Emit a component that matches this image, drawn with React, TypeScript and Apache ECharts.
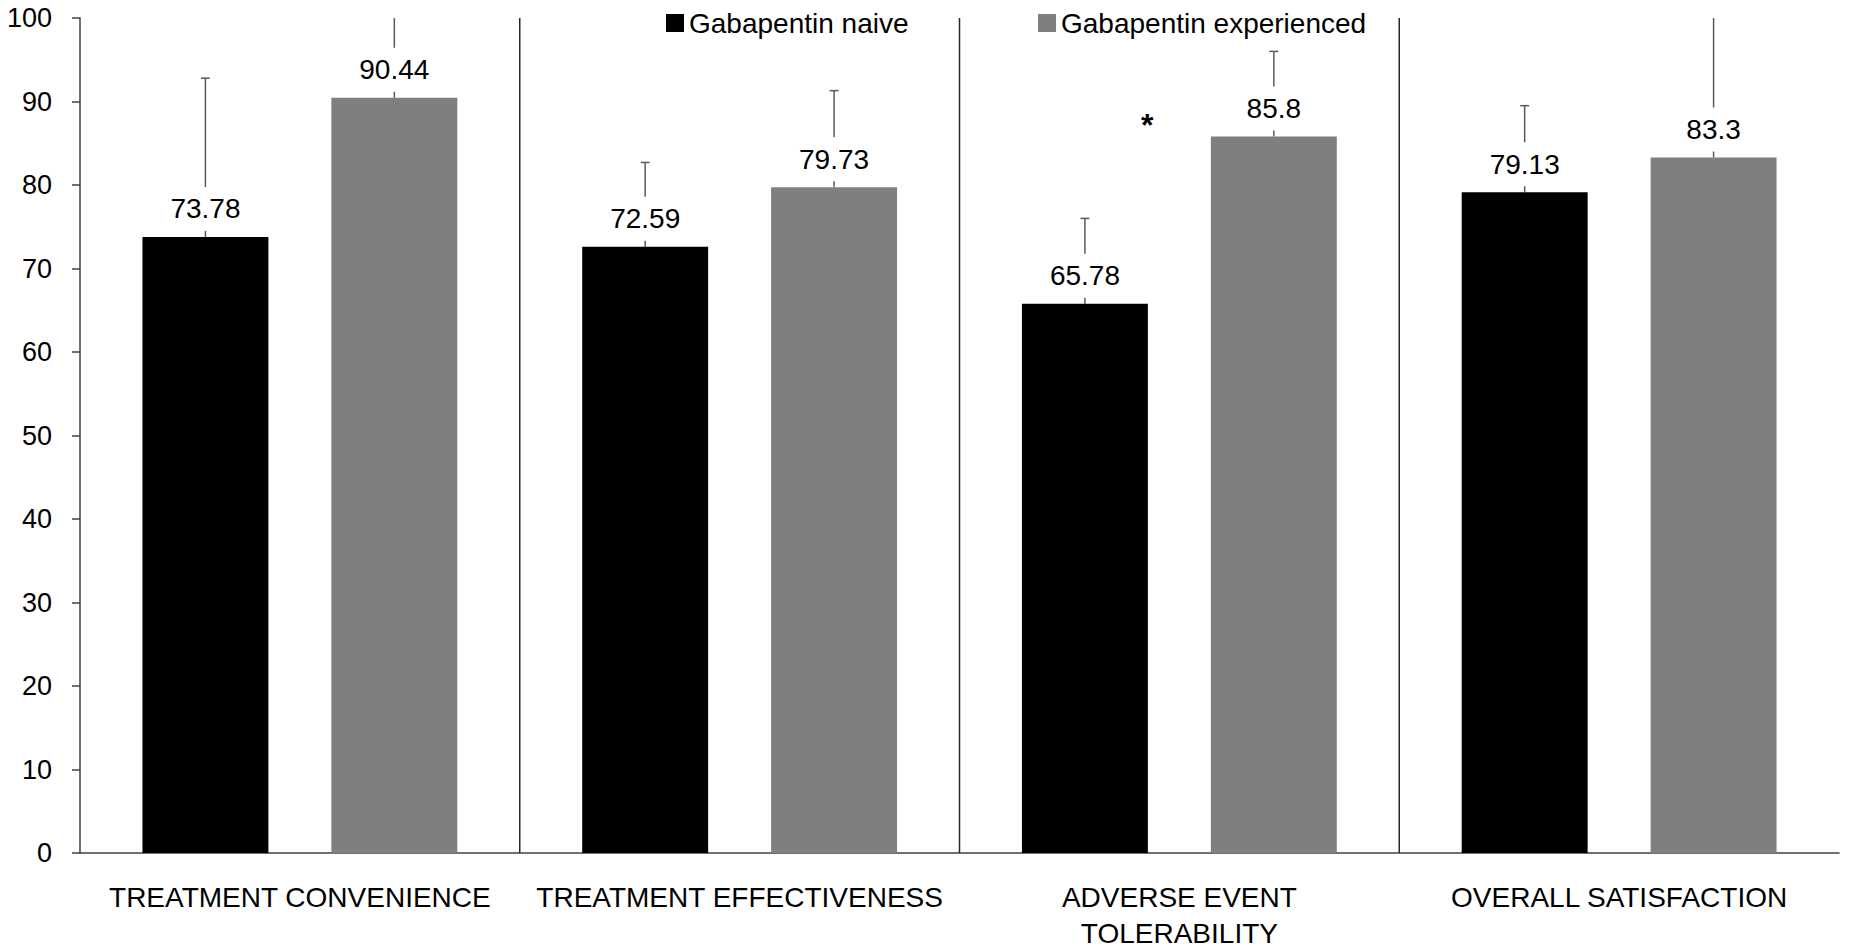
import React, { useEffect, useRef } from "react";
import * as echarts from "echarts";

const categories = [
  "TREATMENT CONVENIENCE",
  "TREATMENT EFFECTIVENESS",
  "ADVERSE EVENT\nTOLERABILITY",
  "OVERALL SATISFACTION",
];
const seriesNames = ["Gabapentin naive", "Gabapentin experienced"];
const naiveValues = [73.78, 72.59, 65.78, 79.13];
const experiencedValues = [90.44, 79.73, 85.8, 83.3];
const naiveUpper = [92.8, 82.7, 76.0, 89.5];
const experiencedUpper = [108, 91.3, 96.0, 107];
const dividerIndices = [1, 2, 3];
const significance = [[2, 87.2]];
const Y_MIN = 0;
const Y_MAX = 100;
const Y_INTERVAL = 10;

const CAT_GAP = 0.284;
const BAR_GAP = 0.5;
const FONT = "'Liberation Sans', Arial, sans-serif";

function barOffset(band: number, sign: number) {
  const bw = (band * (1 - CAT_GAP)) / (2 + BAR_GAP);
  return ((bw * (1 + BAR_GAP)) / 2) * sign;
}

function errorSeries(name: string, values: number[], uppers: number[], sign: number) {
  return {
    type: "custom",
    name,
    z: 1,
    silent: true,
    clip: false,
    data: values.map((v, i) => [i, v, uppers[i]]),
    encode: { x: 0, y: 1 },
    renderItem: (params: any, api: any) => {
      const idx = api.value(0);
      const v = api.value(1);
      const up = api.value(2);
      const band = api.size([1, 0])[0];
      const base = api.coord([idx, v]);
      const top = api.coord([idx, Math.min(up, Y_MAX)]);
      const x = base[0] + barOffset(band, sign);
      const style = { stroke: "#595959", lineWidth: 1.5 };
      const children: any[] = [
        { type: "line", shape: { x1: x, y1: base[1], x2: x, y2: top[1] }, style },
      ];
      if (up <= Y_MAX) {
        children.push({
          type: "line",
          shape: { x1: x - 4.5, y1: top[1], x2: x + 4.5, y2: top[1] },
          style,
        });
      }
      return { type: "group", children };
    },
  };
}

export default function App() {
  const ref = useRef<HTMLDivElement>(null);
  useEffect(() => {
    if (!ref.current) return;
    const chart = echarts.init(ref.current, undefined, { renderer: "svg" });
    const barLabel = {
      show: true,
      position: "top",
      distance: 6,
      color: "#000",
      fontFamily: FONT,
      fontSize: 28,
      lineHeight: 30,
      backgroundColor: "#fff",
      padding: [7, 4],
    };
    const option: any = {
      animation: false,
      backgroundColor: "#fff",
      textStyle: { fontFamily: FONT },
      legend: [
        {
          data: [seriesNames[0]],
          left: 661,
          top: 4,
          itemWidth: 18,
          itemHeight: 18,
          icon: "rect",
          textStyle: { fontSize: 28, color: "#000", fontFamily: FONT },
        },
        {
          data: [seriesNames[1]],
          left: 1033,
          top: 4,
          itemWidth: 18,
          itemHeight: 18,
          icon: "rect",
          textStyle: { fontSize: 28, color: "#000", fontFamily: FONT },
        },
      ],
      grid: { left: 80, right: 11, top: 18, bottom: 99, containLabel: false },
      xAxis: {
        type: "category",
        data: categories,
        axisLine: { lineStyle: { color: "#404040", width: 1.5 } },
        axisTick: { show: false },
        splitLine: { show: false },
        axisLabel: {
          interval: 0,
          margin: 26,
          color: "#000",
          fontFamily: FONT,
          fontSize: 28,
          lineHeight: 36,
        },
      },
      yAxis: {
        type: "value",
        min: Y_MIN,
        max: Y_MAX,
        interval: Y_INTERVAL,
        axisLine: { show: true, lineStyle: { color: "#404040", width: 1.5 } },
        axisTick: { show: true, inside: false, length: 8, lineStyle: { color: "#404040", width: 1.5 } },
        splitLine: { show: false },
        axisLabel: { margin: 28, color: "#000", fontFamily: FONT, fontSize: 27 },
      },
      series: [
        {
          type: "custom",
          name: "dividers",
          z: 1,
          silent: true,
          clip: false,
          data: dividerIndices.map((i) => [i, Y_MAX]),
          encode: { x: 0, y: 1 },
          renderItem: (params: any, api: any) => {
            const idx = api.value(0);
            const band = api.size([1, 0])[0];
            const t = api.coord([idx, Y_MAX]);
            const b = api.coord([idx, Y_MIN]);
            const x = t[0] - band / 2;
            return {
              type: "line",
              shape: { x1: x, y1: t[1], x2: x, y2: b[1] },
              style: { stroke: "#262626", lineWidth: 1.5 },
            };
          },
        },
        {
          type: "bar",
          name: seriesNames[0],
          data: naiveValues,
          z: 3,
          barGap: "50%",
          barCategoryGap: "28.4%",
          itemStyle: { color: "#000000" },
          label: barLabel,
        },
        {
          type: "bar",
          name: seriesNames[1],
          data: experiencedValues,
          z: 3,
          barGap: "50%",
          barCategoryGap: "28.4%",
          itemStyle: { color: "#7f7f7f" },
          label: barLabel,
        },
        errorSeries("err-naive", naiveValues, naiveUpper, -1),
        errorSeries("err-exp", experiencedValues, experiencedUpper, 1),
        {
          type: "custom",
          name: "significance",
          z: 4,
          silent: true,
          clip: false,
          data: significance,
          encode: { x: 0, y: 1 },
          renderItem: (params: any, api: any) => {
            const idx = api.value(0);
            const v = api.value(1);
            const band = api.size([1, 0])[0];
            const p = api.coord([idx, v]);
            return {
              type: "text",
              x: p[0] - band * 0.073,
              y: p[1],
              style: {
                text: "*",
                fill: "#000",
                font: `bold 32px ${FONT}`,
                align: "center",
                verticalAlign: "middle",
              },
            };
          },
        },
      ],
    };
    chart.setOption(option);
    return () => chart.dispose();
  }, []);
  return (
    <div
      ref={ref}
      style={{ position: "absolute", left: 0, top: 0, width: 1850, height: 952, background: "#fff" }}
    />
  );
}
